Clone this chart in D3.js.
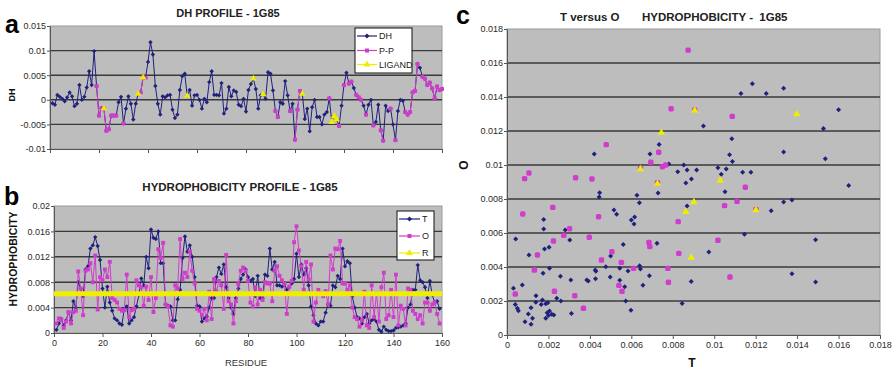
<!DOCTYPE html>
<html><head><meta charset="utf-8">
<script src="https://cdn.jsdelivr.net/npm/d3@7"></script>
<style>body{margin:0;background:#fff} svg{display:block;font-family:"Liberation Sans",Arial,sans-serif}</style>
</head><body><svg id="chart" width="894" height="369"></svg>
<script>
// ---------- DATA ----------
const dhValues = [
-0.0007,-0.001,0.001,0.0006,0.0002,-0.0003,0.0005,0.0015,0.0007,-0.0013,
-0.0008,0.003,0,0.0006,0.0025,0.0058,0.003,0.0099,0.0028,-0.0032,
-0.0017,-0.0018,-0.0063,-0.006,-0.0032,-0.0032,-0.0032,-0.0005,0.0006,-0.0048,
-0.0018,0.0007,-0.0008,-0.004,-0.0008,0.0012,0.0015,0.0045,0.0045,0.0077,
0.0117,0.0092,0.0028,-0.0008,-0.003,0.0007,0.0005,0.0009,0.001,-0.002,
-0.0037,-0.003,0.002,0.0048,0.0053,0.0008,0.002,-0.0012,0.0009,0.001,
0,-0.0018,0.0002,-0.0005,0.0036,0.0058,0.001,0.001,0.0009,0.0034,
-0.0028,-0.0018,0.0026,0.0007,0.0019,0.0016,-0.001,-0.0013,0.0002,-0.0024,
0.002,0.0032,0.0043,0.0022,-0.0018,0.0009,0.0011,0.0002,0.0056,0.0053,
0.0019,-0.0023,-0.0035,-0.0005,-0.0008,0.0038,0.0009,-0.0023,-0.0008,-0.0081,
-0.002,0.0018,0.0012,-0.0039,-0.0018,-0.0064,-0.0015,0,-0.0035,-0.0035,
-0.005,-0.003,-0.0025,0.0003,-0.0045,-0.0033,-0.004,-0.0053,-0.0012,0.003,
0.0055,0.0033,0.0037,0.0024,0.001,0.0005,0,-0.0012,-0.003,-0.001,
0,-0.0052,-0.0045,-0.001,-0.0062,-0.0083,-0.0012,-0.0023,-0.0018,-0.005,
-0.0082,-0.0023,0,-0.0002,-0.0025,-0.003,-0.0025,0.0015,0.0018,0.0073,
0.0065,0.0047,0.0043,0.003,0.0035,0.0023,0.0003,0.0027,0.002,0.0022];
const ppResidues = [19,20,21,22,23,24,25,26,27,30,37,38,39,92,93,98,100,101,102,114,118,120,122,123,125,126,127,129,132,135,136,139,141,145,146,147,148,149,150,152,153,154,155,156,157,158,159,160];
const ligandResidues = [22,36,38,56,83,87,103,115,116,117];

const tValues = [
0.0005,0.0015,0.0022,0.0012,0.002,0.0033,0.002,0.005,0.004,0.008,
0.007,0.0058,0.01,0.0105,0.0133,0.0138,0.0151,0.0137,0.0115,0.007,
0.004,0.0073,0.0048,0.0035,0.0023,0.002,0.0015,0.0013,0.0038,0.0042,
0.0015,0.002,0.0025,0.0042,0.006,0.0086,0.0075,0.012,0.0102,0.0163,
0.015,0.0148,0.016,0.011,0.011,0.0045,0.0043,0.0042,0.002,0.002,
0.0053,0.0068,0.0118,0.0152,0.0128,0.0138,0.012,0.0088,0.0043,0.0042,
0.0018,0.0023,0.0026,0.004,0.0055,0.0055,0.0088,0.0103,0.0093,0.0108,
0.0072,0.0055,0.004,0.003,0.0055,0.007,0.0085,0.0092,0.01,0.0088,
0.0082,0.0085,0.0058,0.009,0.0055,0.0055,0.0092,0.009,0.0133,0.01,
0.0112,0.0075,0.0075,0.0073,0.0078,0.0068,0.0072,0.0078,0.0085,0.0125,
0.0088,0.0108,0.0092,0.0102,0.0075,0.0042,0.0028,0.0015,0.0012,0.0018,
0.0018,0.0032,0.0045,0.0043,0.0075,0.0072,0.009,0.0085,0.0133,0.0105,
0.0113,0.011,0.0058,0.004,0.0025,0.0023,0.0015,0.0025,0.003,0.0015,
0.002,0.0022,0.0018,0.0005,0.0002,0.001,0.0005,0.0003,0.0003,0.0004,
0.0008,0.0009,0.001,0.0012,0.0015,0.004,0.0045,0.0068,0.0068,0.0107,
0.0083,0.008,0.0072,0.0055,0.0082,0.006,0.0048,0.005,0.0038];
const oValues = [
0.0015,0.0023,0.0021,0.0008,0.0018,0.0033,0.0015,0.0033,0.0035,0.0097,
0.007,0.0028,0.0098,0.01,0.011,0.008,0.0122,0.0037,0.0088,0.0083,
0.01,0.0088,0.0112,0.0055,0.0052,0.0048,0.0038,0.0035,0.0036,0.0092,
0.0025,0.0036,0.0038,0.0083,0.0075,0.0072,0.0043,0.0073,0.0052,0.0088,
0.0033,0.0055,0.0132,0.0118,0.0142,0.0045,0.0042,0.0012,0.001,0.0075,
0.007,0.0148,0.0085,0.0095,0.0088,0.0128,0.0098,0.0078,0.0038,0.0035,
0.0028,0.0038,0.002,0.0065,0.0022,0.0085,0.0065,0.0082,0.0075,0.0038,
0.0123,0.005,0.0045,0.0015,0.005,0.0077,0.0098,0.0103,0.0098,0.0082,
0.0048,0.0042,0.0072,0.0045,0.0068,0.0052,0.008,0.0078,0.0078,0.005,
0.0098,0.0105,0.009,0.0083,0.0078,0.003,0.0073,0.0082,0.0143,0.0168,
0.013,0.0105,0.0068,0.0112,0.0085,0.0108,0.0018,0.0048,0.0068,0.0063,
0.0058,0.0066,0.0045,0.0122,0.01,0.0133,0.0132,0.0145,0.0078,0.0078,
0.0068,0.0075,0.004,0.0025,0.0022,0.001,0.002,0.0065,0.0012,0.0008,
0.0075,0.0025,0.0063,0.0018,0.0072,0.0095,0.0022,0.0028,0.0068,0.0025,
0.0092,0.0012,0.0043,0.0038,0.0012,0.007,0.0068,0.0035,0.003,0.0022,
0.0028,0.0015,0.0048,0.0048,0.0035,0.0045,0.0048,0.003,0.0015];
const rLevel = 0.0062;

// scatter (T, O) pairs
const scatterAll = [
[0.00421,0.01065],[0.00734,0.0112],[0.0069,0.01065],[0.00781,0.01006],[0.00824,0.0096],[0.00853,0.01],
[0.00869,0.0097],[0.00863,0.00894],[0.0089,0.00918],[0.00729,0.00835],[0.00627,0.00822],[0.00639,0.00778],
[0.00447,0.00837],[0.00445,0.00812],[0.00516,0.00735],[0.00529,0.0071],[0.00869,0.00759],[0.006,0.00676],
[0.00616,0.00694],[0.00613,0.00653],[0.00177,0.0068],[0.00177,0.00624],[0.00281,0.00618],[0.00303,0.00559],
[0.00042,0.00565],[0.00106,0.00471],[0.00181,0.00506],[0.00203,0.00516],[0.00561,0.00533],[0.00724,0.00539],
[0.005,0.00465],[0.00477,0.00402],[0.00426,0.00382],[0.00429,0.00375],[0.00544,0.00392],[0.00584,0.00376],
[0.0064,0.00408],[0.00644,0.00388],[0.00205,0.00392],[0.00174,0.00363],[0.00258,0.00345],[0.00308,0.00324],
[0.00385,0.00324],[0.00392,0.00318],[0.00427,0.00331],[0.00498,0.00341],[0.00544,0.00322],[0.00568,0.00284],
[0.00687,0.00349],[0.00656,0.00292],[0.00074,0.00294],[0.00031,0.00275],[0.0014,0.00231],[0.00171,0.00206],
[0.00187,0.00184],[0.00197,0.0019],[0.00165,0.0018],[0.00139,0.00192],[0.0024,0.00216],[0.0026,0.002],
[0.00573,0.002],[0.00598,0.00145],[0.0004,0.0018],[0.0005,0.00157],[0.00055,0.00143],[0.00116,0.00161],
[0.00103,0.00124],[0.00087,0.00078],[0.00116,0.00063],[0.00123,0.00098],[0.00194,0.00131],[0.002,0.00114],
[0.00205,0.00141],[0.00216,0.00122],[0.00226,0.00118],[0.00187,0.00098],[0.00311,0.00127],[0.00845,0.00186],
[0.01184,0.01478],[0.01129,0.0142],[0.01251,0.0142],[0.01335,0.01451],[0.016,0.01325],[0.00948,0.0123],
[0.01527,0.01214],[0.01085,0.01155],[0.01074,0.01061],[0.01088,0.0102],[0.01335,0.01076],[0.01536,0.01037],
[0.00915,0.0097],[0.01018,0.00984],[0.01034,0.00945],[0.01058,0.00976],[0.01137,0.00957],[0.01177,0.00957],
[0.01649,0.0088],[0.01052,0.00843],[0.01335,0.00782],[0.01375,0.00794],[0.01275,0.00731],[0.01146,0.00592],
[0.01489,0.00561],[0.00974,0.00488],[0.01375,0.00361],[0.01489,0.00312],[0.00889,0.00314]];
const scatterPP = [
[0.00874,0.01676],[0.00792,0.01331],[0.00906,0.01324],[0.00479,0.0112],[0.00732,0.01075],[0.00694,0.01016],
[0.0075,0.0099],[0.00766,0.01],[0.00644,0.0098],[0.00726,0.00896],[0.00331,0.00925],[0.0041,0.00918],
[0.00085,0.0092],[0.00106,0.00953],[0.00076,0.00712],[0.00221,0.00751],[0.00442,0.00696],[0.00826,0.00667],
[0.00224,0.00553],[0.00302,0.00625],[0.00274,0.00586],[0.00397,0.00575],[0.00147,0.00471],[0.00506,0.0049],
[0.00456,0.00441],[0.00685,0.00545],[0.00689,0.0052],[0.00829,0.0048],[0.00552,0.00427],[0.00132,0.00382],
[0.00611,0.00392],[0.00776,0.00392],[0.00779,0.0031],[0.0054,0.00292],[0.00555,0.00257],[0.0004,0.00241],
[0.00229,0.00257],[0.00327,0.00231],[0.00369,0.00157],[0.01087,0.01286],[0.0115,0.00869],[0.0105,0.00761],
[0.0111,0.00786],[0.01201,0.00739],[0.01018,0.00557],[0.01076,0.00341]];
const scatterLigand = [
[0.00745,0.0119],[0.00644,0.00976],[0.00726,0.0089],[0.00906,0.0132],[0.00863,0.00725],
[0.00902,0.00782],[0.00889,0.00455],[0.01029,0.00908],[0.01398,0.013],[0.01201,0.00735]];

const residueTicks = [0,20,40,60,80,100,120,140,160];
const dhTicks = [-0.01,-0.005,0,0.005,0.01,0.015];
const hydTicks = [0,0.004,0.008,0.012,0.016,0.02];
const scatterTicks = [0,0.002,0.004,0.006,0.008,0.01,0.012,0.014,0.016,0.018];

// ---------- STYLE ----------
const BLUE="#20207e", MAG="#d03ccb", YEL="#f0ee00", PLOT="#bdbdbd", GRID="#3a3a3a", TXT="#2a2a2a";
const fmt = d => String(+d.toFixed(4));
const svg = d3.select("#chart");
const DIAMOND = d3.symbolDiamond2 || d3.symbolDiamond;

function plotArea(x, y, xTicks, yTicks, opts) {
  const [x0,x1] = x.range(), [y1,y0] = y.range();
  svg.append("rect").attr("x",x0).attr("y",y0).attr("width",x1-x0).attr("height",y1-y0)
     .attr("fill",PLOT).attr("stroke","#9a9a9a").attr("stroke-width",1);
  svg.append("g").selectAll("line").data(yTicks.filter(t => y(t) > y0+1 && y(t) < y1-1)).join("line")
     .attr("x1",x0).attr("x2",x1).attr("y1",d=>y(d)).attr("y2",d=>y(d))
     .attr("stroke",GRID).attr("stroke-width",1.4);
  const ga = svg.append("g").attr("transform",`translate(${x0},0)`)
     .call(d3.axisLeft(y).tickValues(yTicks).tickFormat(fmt).tickSize(3).tickSizeOuter(0));
  const gb = svg.append("g").attr("transform",`translate(0,${y1})`)
     .call(d3.axisBottom(x).tickValues(xTicks).tickFormat(opts.xLabels ? opts.xFmt : "").tickSize(4).tickSizeOuter(0));
  [ga,gb].forEach(g => {
    g.select(".domain").attr("stroke","#555");
    g.selectAll(".tick line").attr("stroke","#555");
    g.selectAll("text").attr("fill",TXT).attr("font-size","9px").attr("font-family","Liberation Sans, Arial, sans-serif");
  });
  ga.selectAll("text").attr("x",-4);
}
const sym = (type,size) => d3.symbol().type(type).size(size)();

// ---------- PANEL A ----------
const xA = d3.scaleLinear().domain([0,160]).range([50,442]);
const yA = d3.scaleLinear().domain([-0.01,0.015]).range([149,26]);
plotArea(xA,yA,residueTicks,dhTicks,{xLabels:false});
const ppSet = new Set(ppResidues), ligSet = new Set(ligandResidues);
const lineA = d3.line().defined(d=>d!=null).x((d,i)=>xA(i+1)).y(d=>yA(d));
function drawSeries(vals, color, type, size, scaleLine) {
  svg.append("path").datum(vals).attr("d",scaleLine).attr("fill","none").attr("stroke",color).attr("stroke-width",1);
  svg.append("g").selectAll("path").data(vals.map((v,i)=>[i+1,v]).filter(d=>d[1]!=null)).join("path")
    .attr("d",sym(type,size)).attr("fill",color)
    .attr("transform",d=>`translate(${scaleLine.x()(d[1],d[0]-1)},${scaleLine.y()(d[1])})`);
}
drawSeries(dhValues, BLUE, DIAMOND, 12, lineA);
drawSeries(dhValues.map((v,i)=>ppSet.has(i+1)?v:null), MAG, d3.symbolSquare, 15, lineA);
drawSeries(dhValues.map((v,i)=>ligSet.has(i+1)?v:null), YEL, d3.symbolTriangle, 20, lineA);

// ---------- PANEL B ----------
const xB = d3.scaleLinear().domain([0,160]).range([54,442]);
const yB = d3.scaleLinear().domain([0,0.02]).range([333,206]);
plotArea(xB,yB,residueTicks,hydTicks,{xLabels:true,xFmt:d=>d});
const lineB = d3.line().x((d,i)=>xB(i+1)).y(d=>yB(d));
drawSeries(tValues, BLUE, DIAMOND, 12, lineB);
drawSeries(oValues, MAG, d3.symbolSquare, 15, lineB);
svg.append("line").attr("x1",xB(0)).attr("x2",xB(160)).attr("y1",yB(rLevel)).attr("y2",yB(rLevel))
   .attr("stroke",YEL).attr("stroke-width",5);

// ---------- PANEL C ----------
const xC = d3.scaleLinear().domain([0,0.018]).range([507,880]);
const yC = d3.scaleLinear().domain([0,0.018]).range([335,29]);
plotArea(xC,yC,scatterTicks,scatterTicks,{xLabels:true,xFmt:fmt});
svg.append("g").selectAll("path").data(scatterAll).join("path")
   .attr("d",sym(DIAMOND,16)).attr("fill",BLUE)
   .attr("transform",d=>`translate(${xC(d[0])},${yC(d[1])})`);
svg.append("g").selectAll("rect").data(scatterPP).join("rect")
   .attr("x",d=>xC(d[0])-2.7).attr("y",d=>yC(d[1])-2.7).attr("width",5.4).attr("height",5.4).attr("rx",1.6)
   .attr("fill",MAG);
svg.append("g").selectAll("path").data(scatterLigand).join("path")
   .attr("d",sym(d3.symbolTriangle,24)).attr("fill",YEL)
   .attr("transform",d=>`translate(${xC(d[0])},${yC(d[1])})`);

// ---------- TEXT ----------
function txt(x,y,s,o={}) {
  const t = svg.append("text").attr("x",x).attr("y",y).text(s)
    .attr("font-size",o.size||"9px").attr("font-weight",o.bold?"bold":"normal")
    .attr("fill",o.fill||TXT).attr("text-anchor",o.anchor||"middle");
  if (o.rot) t.attr("transform",`rotate(-90,${x},${y})`);
  return t;
}
txt(228,17,"DH PROFILE - 1G85",{size:"11px",bold:true,fill:"#222"});
txt(240,191,"HYDROPHOBICITY PROFILE - 1G85",{size:"11.5px",bold:true,fill:"#222"});
txt(560,21,"T versus O",{size:"11.5px",bold:true,fill:"#222",anchor:"start"});
txt(642,21,"HYDROPHOBICITY -  1G85",{size:"11.5px",bold:true,fill:"#222",anchor:"start"}).style("white-space","pre");
txt(5,33,"a",{size:"25px",bold:true,fill:"#000",anchor:"start"});
txt(4,205,"b",{size:"25px",bold:true,fill:"#000",anchor:"start"});
txt(456,24,"c",{size:"25px",bold:true,fill:"#000",anchor:"start"});
txt(15,95,"DH",{size:"9px",bold:true,rot:true,fill:"#111"});
txt(17,259,"HYDROPHOBICITY",{size:"10.5px",bold:true,rot:true,fill:"#111"});
txt(246,366,"RESIDUE",{size:"9.5px",fill:"#333"});
txt(468,165,"O",{size:"12px",bold:true,rot:true,fill:"#111"});
txt(692,367,"T",{size:"12px",bold:true,fill:"#111"});

// ---------- LEGENDS ----------
function legend(x,y,w,h,items,lx0,lx1,tx) {
  svg.append("rect").attr("x",x).attr("y",y).attr("width",w).attr("height",h)
     .attr("fill","#fff").attr("stroke","#111").attr("stroke-width",1);
  items.forEach(it => {
    svg.append("line").attr("x1",lx0).attr("x2",lx1).attr("y1",it.y).attr("y2",it.y)
       .attr("stroke",it.color).attr("stroke-width",1.2);
    svg.append("path").attr("d",sym(it.type,it.size||16)).attr("fill",it.color)
       .attr("transform",`translate(${(lx0+lx1)/2},${it.y})`);
    txt(tx,it.y+3,it.label,{anchor:"start",size:"9px",fill:"#222"});
  });
}
legend(355,28,57,45,[
  {y:36,color:BLUE,type:DIAMOND,label:"DH"},
  {y:50.5,color:MAG,type:d3.symbolSquare,label:"P-P"},
  {y:64.5,color:YEL,type:d3.symbolTriangle,label:"LIGAND",size:22}],357,377,379);
legend(397,211,37,49,[
  {y:219,color:BLUE,type:DIAMOND,label:"T"},
  {y:236,color:MAG,type:d3.symbolSquare,label:"O"},
  {y:253,color:YEL,type:d3.symbolTriangle,label:"R",size:22}],399,420,422);
</script></body></html>
